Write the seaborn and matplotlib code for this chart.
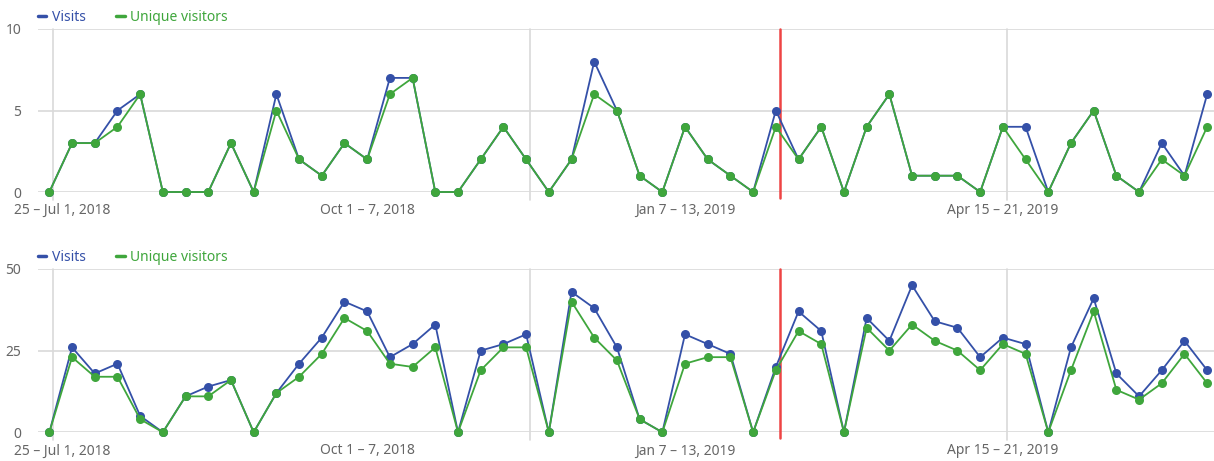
import numpy as np
import pandas as pd
import matplotlib
matplotlib.use("Agg")
import matplotlib.pyplot as plt
from matplotlib.lines import Line2D
from matplotlib.transforms import ScaledTranslation
import seaborn as sns

# Dane tygodniowe (52 tygodnie od Jun 25, 2018)
weeks = list(range(52))

# Panel gorny
visits_top = [0, 3, 3, 5, 6, 0, 0, 0, 3, 0, 6, 2, 1, 3, 2, 7, 7, 0, 0, 2,
              4, 2, 0, 2, 8, 5, 1, 0, 4, 2, 1, 0, 5, 2, 4, 0, 4, 6, 1, 1,
              1, 0, 4, 4, 0, 3, 5, 1, 0, 3, 1, 6]
unique_top = [0, 3, 3, 4, 6, 0, 0, 0, 3, 0, 5, 2, 1, 3, 2, 6, 7, 0, 0, 2,
              4, 2, 0, 2, 6, 5, 1, 0, 4, 2, 1, 0, 4, 2, 4, 0, 4, 6, 1, 1,
              1, 0, 4, 2, 0, 3, 5, 1, 0, 2, 1, 4]

# Panel dolny
visits_bottom = [0, 26, 18, 21, 5, 0, 11, 14, 16, 0, 12, 21, 29, 40, 37, 23, 27, 33, 0, 25,
                 27, 30, 0, 43, 38, 26, 4, 0, 30, 27, 24, 0, 20, 37, 31, 0, 35, 28, 45, 34,
                 32, 23, 29, 27, 0, 26, 41, 18, 11, 19, 28, 19]
unique_bottom = [0, 23, 17, 17, 4, 0, 11, 11, 16, 0, 12, 17, 24, 35, 31, 21, 20, 26, 0, 19,
                 26, 26, 0, 40, 29, 22, 4, 0, 21, 23, 23, 0, 19, 31, 27, 0, 32, 25, 33, 28,
                 25, 19, 27, 24, 0, 19, 37, 13, 10, 15, 24, 15]

tick_weeks = [0, 14, 28, 42]
tick_labels = ["25 \u2013 Jul 1, 2018", "Oct 1 \u2013 7, 2018",
               "Jan 7 \u2013 13, 2019", "Apr 15 \u2013 21, 2019"]
grid_weeks = [0, 21, 42]
marker_week = 32

blue = "#3450a8"
green = "#3fa63c"
red = "#ee4444"
gray_grid = "#d9d9d9"
gray_text = "#666666"

sns.set_theme(style="white")
plt.rcParams['font.family'] = ['Noto Sans', 'DejaVu Sans']

fig = plt.figure(figsize=(12.14, 4.61), dpi=100)
ax_top = fig.add_axes([0.0313, 0.5835, 0.9687, 0.3536])
ax_bot = fig.add_axes([0.0313, 0.0623, 0.9687, 0.3542])


def draw_panel(ax, visits, unique, ymax):
    df = pd.DataFrame({"week": weeks, "Visits": visits, "Unique visitors": unique})
    for col, c in [("Visits", blue), ("Unique visitors", green)]:
        sns.lineplot(data=df, x="week", y=col, ax=ax, color=c, marker="o",
                     markersize=6.5, markeredgewidth=0, linewidth=1.3, clip_on=False)
    ax.set_xlim(-0.5, 51.3)
    ax.set_ylim(0, ymax)
    ax.set_yticks([0, ymax / 2, ymax])
    ax.set_yticklabels([str(int(v)) for v in [0, ymax / 2, ymax]])
    ax.set_xticks(tick_weeks)
    ax.set_xticklabels(tick_labels)
    ax.set_xlabel("")
    ax.set_ylabel("")
    for s in ax.spines.values():
        s.set_visible(False)
    ax.tick_params(axis="both", length=0, colors=gray_text, labelsize=10)
    ax.tick_params(axis="y", pad=12)
    ax.tick_params(axis="x", pad=8)
    # pierwsza etykieta jest w oryginale przycieta - przesuniecie w prawo
    first = ax.get_xticklabels()[0]
    first.set_transform(first.get_transform() + ScaledTranslation(0.13, 0, fig.dpi_scale_trans))
    for v in [0, ymax / 2, ymax]:
        ax.axhline(v, color=gray_grid, linewidth=1.2, zorder=0)
    for w in grid_weeks:
        ax.axvline(w + 0.18, ymin=-0.05, ymax=1, color=gray_grid, linewidth=1.2,
                   zorder=0, clip_on=False)
    ax.axvline(marker_week + 0.18, ymin=-0.035, ymax=1, color=red, linewidth=1.8,
               zorder=1, clip_on=False)
    handles = [Line2D([], [], color=blue, linewidth=2.5),
               Line2D([], [], color=green, linewidth=2.5)]
    leg = ax.legend(handles, ["Visits", "Unique visitors"], loc="lower left",
                    bbox_to_anchor=(0.0, 1.025), ncol=2, frameon=False,
                    handlelength=0.6, handletextpad=0.4, columnspacing=2.2,
                    fontsize=10, borderaxespad=0, borderpad=0)
    for t, c in zip(leg.get_texts(), [blue, green]):
        t.set_color(c)


draw_panel(ax_top, visits_top, unique_top, 10)
draw_panel(ax_bot, visits_bottom, unique_bottom, 50)

fig.savefig("out.png", dpi=100)
